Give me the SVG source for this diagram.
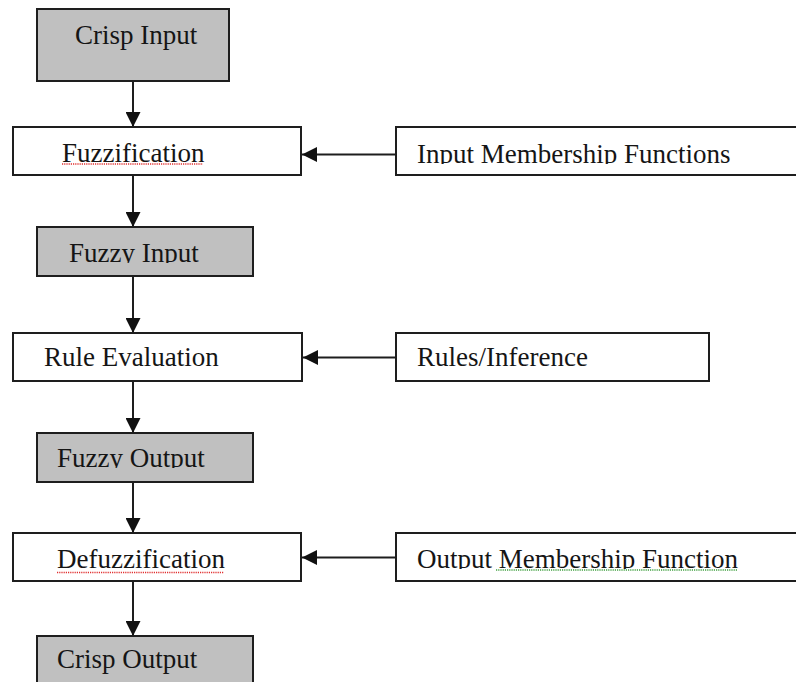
<svg xmlns="http://www.w3.org/2000/svg" width="796" height="682" viewBox="0 0 796 682">
<style>
.box{fill:#ffffff;stroke:#1e1e1e;stroke-width:2}
.grey{fill:#c0c0c0}
.lbl{font-family:"Liberation Serif","Times New Roman",serif;font-size:27px;fill:#151515}
.con{stroke:#1e1e1e;stroke-width:2;fill:none}
.spell{stroke-width:1.6;fill:none;stroke-dasharray:1.2 1}
</style>
<defs>
<marker id="ah" markerUnits="userSpaceOnUse" markerWidth="15" markerHeight="15" refX="15" refY="7.5" orient="auto">
<path d="M0,0 L15,7.5 L0,15 z" fill="#111"/>
</marker>
<clipPath id="c1"><rect x="396" y="120" width="400" height="44"/></clipPath>
<clipPath id="c2"><rect x="37" y="227" width="216" height="36"/></clipPath>
<clipPath id="c3"><rect x="37" y="433" width="216" height="35"/></clipPath>
<clipPath id="c4"><rect x="396" y="533" width="400" height="36"/></clipPath>
</defs>
<rect width="796" height="682" fill="#ffffff"/>
<g id="connectors">
<line class="con" x1="133" y1="81" x2="133" y2="127" marker-end="url(#ah)"/>
<line class="con" x1="133" y1="175" x2="133" y2="227" marker-end="url(#ah)"/>
<line class="con" x1="133" y1="276" x2="133" y2="333" marker-end="url(#ah)"/>
<line class="con" x1="133" y1="382" x2="133" y2="433" marker-end="url(#ah)"/>
<line class="con" x1="133" y1="482" x2="133" y2="533" marker-end="url(#ah)"/>
<line class="con" x1="133" y1="582" x2="133" y2="636" marker-end="url(#ah)"/>
<line class="con" x1="396" y1="154.5" x2="302" y2="154.5" marker-end="url(#ah)"/>
<line class="con" x1="396" y1="357.5" x2="303" y2="357.5" marker-end="url(#ah)"/>
<line class="con" x1="396" y1="557.5" x2="302" y2="557.5" marker-end="url(#ah)"/>
</g>
<g id="crisp-input">
<rect class="box grey" x="37" y="9" width="192" height="72"/>
<text class="lbl" x="75" y="44">Crisp Input</text>
</g>
<g id="fuzzification">
<rect class="box" x="13" y="127" width="288" height="48"/>
<text class="lbl" x="62" y="161.5">Fuzzification</text>
<line class="spell" x1="62" y1="164" x2="203" y2="164" stroke="#e03030"/>
</g>
<g id="input-membership-functions">
<rect class="box" x="396" y="127" width="420" height="48"/>
<text class="lbl" x="417" y="162.5" clip-path="url(#c1)">Input Membership Functions</text>
</g>
<g id="fuzzy-input">
<rect class="box grey" x="37" y="227" width="216" height="49"/>
<text class="lbl" x="69" y="261.5" clip-path="url(#c2)">Fuzzy Input</text>
</g>
<g id="rule-evaluation">
<rect class="box" x="13" y="333" width="289" height="48"/>
<text class="lbl" x="44" y="366">Rule Evaluation</text>
</g>
<g id="rules-inference">
<rect class="box" x="396" y="333" width="313" height="48"/>
<text class="lbl" x="417" y="366">Rules/Inference</text>
</g>
<g id="fuzzy-output">
<rect class="box grey" x="37" y="433" width="216" height="49"/>
<text class="lbl" x="57" y="466.5" clip-path="url(#c3)">Fuzzy Output</text>
</g>
<g id="defuzzification">
<rect class="box" x="13" y="533" width="288" height="48"/>
<text class="lbl" x="57" y="568">Defuzzification</text>
<line class="spell" x1="57" y1="572.5" x2="224" y2="572.5" stroke="#e03030"/>
</g>
<g id="output-membership-function">
<rect class="box" x="396" y="533" width="420" height="48"/>
<text class="lbl" x="417" y="567.7" clip-path="url(#c4)">Output Membership Function</text>
<line class="spell" x1="496" y1="570" x2="737" y2="570" stroke="#40a040"/>
</g>
<g id="crisp-output">
<rect class="box grey" x="37" y="636" width="216" height="70"/>
<text class="lbl" x="57" y="668">Crisp Output</text>
</g>
</svg>
